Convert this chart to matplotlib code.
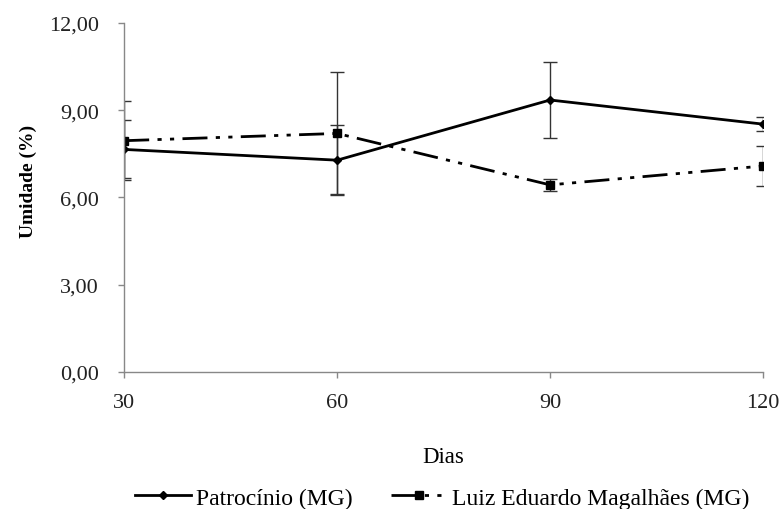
import matplotlib
matplotlib.use("Agg")
import matplotlib.pyplot as plt

# dados
dias = [30, 60, 90, 120]
patrocinio = [7.65, 7.28, 9.35, 8.52]
patrocinio_err = [1.0, 1.2, 1.3, 0.25]
lem = [7.95, 8.20, 6.43, 7.08]
lem_err = [1.35, 2.1, 0.2, 0.7]
yticks = [0, 3, 6, 9, 12]
ytick_labels = ["0,00", "3,00", "6,00", "9,00", "12,00"]

plt.rcParams["font.family"] = ["Liberation Serif", "DejaVu Serif"]

fig = plt.figure(figsize=(7.81, 5.10), dpi=100)
ax = fig.add_axes([0.159, 0.269, 0.818, 0.684])

l1 = ax.errorbar(dias, patrocinio, yerr=patrocinio_err, color="black", lw=2,
                 marker="D", ms=4.5, ecolor="#333333", elinewidth=1, capsize=5,
                 capthick=1, label="Patrocínio (MG)")
l2 = ax.errorbar(dias, lem, yerr=lem_err, color="black", lw=2,
                 marker="s", ms=6, ecolor="#333333", elinewidth=1, capsize=5,
                 capthick=1, label="Luiz Eduardo Magalhães (MG)")
l2[0].set_dashes([9, 3, 1.5, 3, 1.5, 3])

ax.set_xlim(30, 120)
ax.set_ylim(0, 12)
ax.set_xticks(dias)
ax.set_yticks(yticks)
ax.set_yticklabels(ytick_labels)
ax.tick_params(axis="both", direction="out", length=4, width=1,
               color="#888888", labelsize=16, colors="#222222")
ax.tick_params(axis="x", pad=11)
ax.tick_params(axis="y", pad=14)
for s in ["top", "right"]:
    ax.spines[s].set_visible(False)
for s in ["left", "bottom"]:
    ax.spines[s].set_color("#888888")
    ax.spines[s].set_linewidth(1)

ax.set_xlabel("Dias", fontsize=16.5, labelpad=25)
ax.set_ylabel("Umidade (%)", fontsize=14, fontweight="bold")
ax.yaxis.set_label_coords(-0.137, 0.55)
for lbl in ax.get_xticklabels() + ax.get_yticklabels():
    lbl.set_clip_on(False)

fig.legend([l1[0], l2[0]], ["Patrocínio (MG)", "Luiz Eduardo Magalhães (MG)"],
           loc="center", bbox_to_anchor=(0.566, 0.022),
           ncol=2, frameon=False, fontsize=17, handlelength=2.4,
           columnspacing=1.6, handletextpad=0.2, borderpad=0)

fig.savefig("out.png", dpi=100)
